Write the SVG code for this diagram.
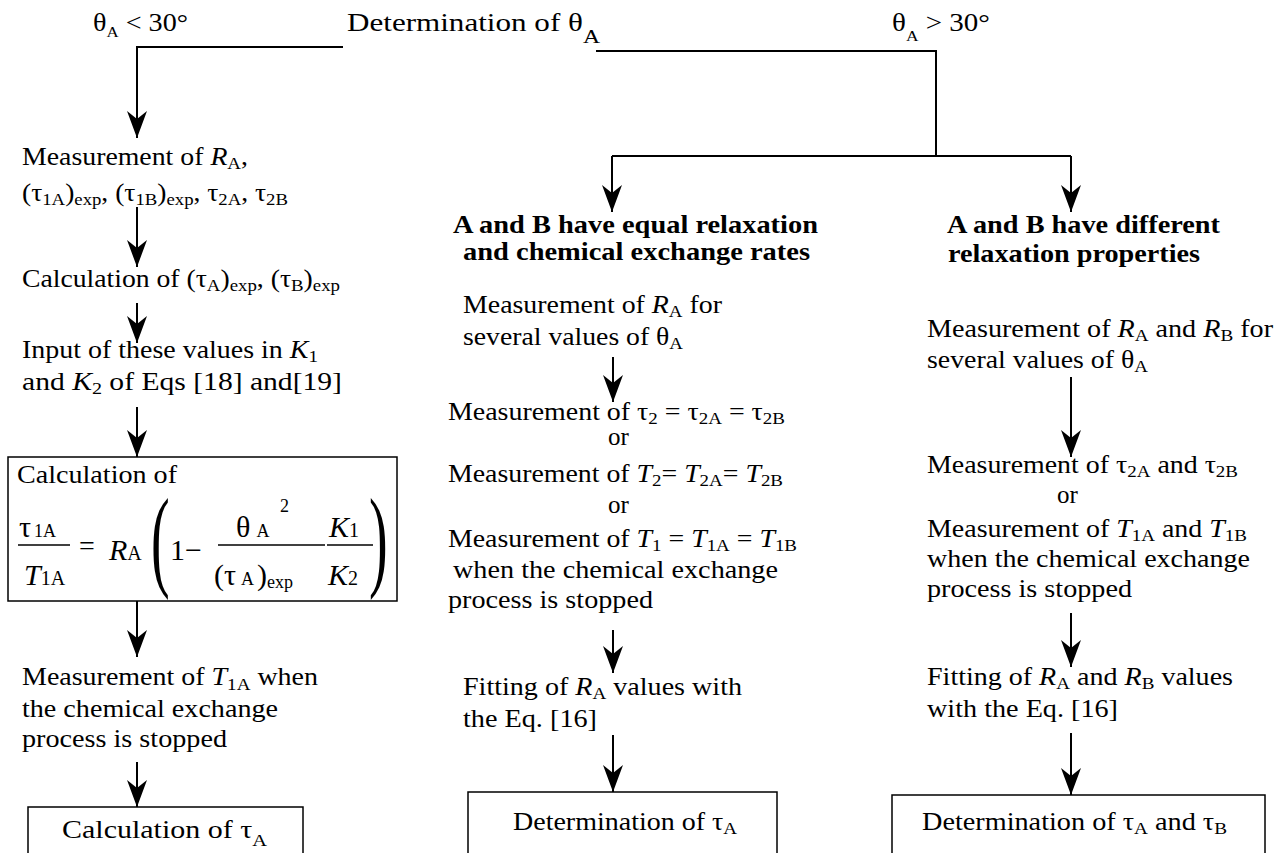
<svg xmlns="http://www.w3.org/2000/svg" width="1276" height="853" viewBox="0 0 1276 853">
<style>
.t{font-size:25px;fill:#000}
.e{font-size:30px;fill:#000}
.b{font-weight:bold}
.i{font-style:italic}
.s{font-size:17px}
.box{fill:#fff;stroke:#000;stroke-width:1.5}
.ln{fill:none;stroke:#000;stroke-width:2}
.fr{stroke:#000;stroke-width:1.5}
</style>
<defs>
<marker id="ah" markerUnits="userSpaceOnUse" viewBox="-27 -11 28 22" refX="0" refY="0" markerWidth="28" markerHeight="22" orient="auto">
<path d="M0,0 L-27,-10 L-19,0 L-27,10 Z" fill="#000"/>
</marker>
</defs>
<rect width="1276" height="853" fill="#fff"/>

<g id="connectors">
<path class="ln" d="M343,47 H137 V138" marker-end="url(#ah)"/>
<path class="ln" d="M596,51 H936 V156"/>
<path class="ln" d="M612,156 H1071"/>
<path class="ln" d="M612,156 V212" marker-end="url(#ah)"/>
<path class="ln" d="M1071,156 V212" marker-end="url(#ah)"/>
<path class="ln" d="M137,207 V267" marker-end="url(#ah)"/>
<path class="ln" d="M137,303 V343" marker-end="url(#ah)"/>
<path class="ln" d="M137,407 V457" marker-end="url(#ah)"/>
<path class="ln" d="M137,601 V657" marker-end="url(#ah)"/>
<path class="ln" d="M137,762 V807" marker-end="url(#ah)"/>
<path class="ln" d="M613,357 V402" marker-end="url(#ah)"/>
<path class="ln" d="M613,630 V673" marker-end="url(#ah)"/>
<path class="ln" d="M613,735 V792" marker-end="url(#ah)"/>
<path class="ln" d="M1071,377 V457" marker-end="url(#ah)"/>
<path class="ln" d="M1071,613 V667" marker-end="url(#ah)"/>
<path class="ln" d="M1071,733 V795" marker-end="url(#ah)"/>
</g>

<g id="top">
<text font-family="Liberation Serif" class="t" x="347" y="31" textLength="253" lengthAdjust="spacingAndGlyphs">Determination of θ<tspan font-size="19" dy="12">A</tspan></text>
</g>
<g id="label-lt">
<text font-family="Liberation Serif" class="t" x="93" y="31" textLength="95" lengthAdjust="spacingAndGlyphs">θ<tspan font-size="15" dy="6">A</tspan><tspan dy="-6"> &lt; 30°</tspan></text>
</g>
<g id="label-gt">
<text font-family="Liberation Serif" class="t" x="892" y="31" textLength="98" lengthAdjust="spacingAndGlyphs">θ<tspan font-size="15" dy="10">A</tspan><tspan dy="-10"> &gt; 30°</tspan></text>
</g>

<g id="left1">
<text font-family="Liberation Serif" class="t" x="22" y="165" textLength="226" lengthAdjust="spacingAndGlyphs">Measurement of <tspan class="i">R</tspan><tspan class="s" dy="4">A</tspan><tspan dy="-4">,</tspan></text>
<text font-family="Liberation Serif" class="t" x="22" y="201" textLength="266" lengthAdjust="spacingAndGlyphs">(τ<tspan class="s" dy="4">1A</tspan><tspan dy="-4">)</tspan><tspan class="s" dy="4">exp</tspan><tspan dy="-4">, (τ</tspan><tspan class="s" dy="4">1B</tspan><tspan dy="-4">)</tspan><tspan class="s" dy="4">exp</tspan><tspan dy="-4">, τ</tspan><tspan class="s" dy="4">2A</tspan><tspan dy="-4">, τ</tspan><tspan class="s" dy="4">2B</tspan></text>
</g>
<g id="left2">
<text font-family="Liberation Serif" class="t" x="22" y="287" textLength="318" lengthAdjust="spacingAndGlyphs">Calculation of (τ<tspan class="s" dy="4">A</tspan><tspan dy="-4">)</tspan><tspan class="s" dy="4">exp</tspan><tspan dy="-4">, (τ</tspan><tspan class="s" dy="4">B</tspan><tspan dy="-4">)</tspan><tspan class="s" dy="4">exp</tspan></text>
</g>
<g id="left3">
<text font-family="Liberation Serif" class="t" x="22" y="358" textLength="296" lengthAdjust="spacingAndGlyphs">Input of these values in <tspan class="i">K</tspan><tspan class="s" dy="4">1</tspan></text>
<text font-family="Liberation Serif" class="t" x="22" y="390" textLength="320" lengthAdjust="spacingAndGlyphs">and <tspan class="i">K</tspan><tspan class="s" dy="4">2</tspan><tspan dy="-4"> of Eqs   [18] and[19]</tspan></text>
</g>
<g id="left4">
<rect class="box" x="8" y="457" width="389" height="144"/>
<text font-family="Liberation Serif" class="t" x="17" y="483" textLength="160" lengthAdjust="spacingAndGlyphs">Calculation of</text>
<text font-family="Liberation Serif" class="e" x="19" y="537">τ<tspan font-size="18" dx="3">1A</tspan></text>
<line class="fr" x1="18" y1="545" x2="70" y2="545"/>
<text font-family="Liberation Serif" class="e i" x="24" y="585">T<tspan font-size="20" font-style="normal">1A</tspan></text>
<text font-family="Liberation Serif" class="e" x="79" y="555" style="font-size:28px">=</text>
<text font-family="Liberation Serif" class="e i" x="109" y="560">R<tspan font-size="20" font-style="normal">A</tspan></text>
<text font-family="Liberation Serif" class="e" transform="translate(151,576) scale(0.5,1)" style="font-size:112px">(</text>
<text font-family="Liberation Serif" class="e" x="170" y="560">1−</text>
<text font-family="Liberation Serif" class="e" x="236" y="537">θ<tspan font-size="18" dx="6">A</tspan></text>
<text font-family="Liberation Serif" class="e" x="280" y="512" style="font-size:18px">2</text>
<line class="fr" x1="218" y1="545" x2="325" y2="545"/>
<text font-family="Liberation Serif" class="e" x="214" y="585">(τ<tspan font-size="18" dx="5">A</tspan><tspan dx="3">)</tspan><tspan font-size="18" dy="3">exp</tspan></text>
<text font-family="Liberation Serif" class="e i" x="329" y="537">K<tspan font-size="20" font-style="normal">1</tspan></text>
<line class="fr" x1="327" y1="545" x2="373" y2="545"/>
<text font-family="Liberation Serif" class="e i" x="328" y="585">K<tspan font-size="20" font-style="normal">2</tspan></text>
<text font-family="Liberation Serif" class="e" transform="translate(369,576) scale(0.5,1)" style="font-size:112px">)</text>
</g>
<g id="left5">
<text font-family="Liberation Serif" class="t" x="22" y="685" textLength="296" lengthAdjust="spacingAndGlyphs">Measurement of <tspan class="i">T</tspan><tspan class="s" dy="5">1A</tspan><tspan dy="-5"> when</tspan></text>
<text font-family="Liberation Serif" class="t" x="22" y="717" textLength="256" lengthAdjust="spacingAndGlyphs">the chemical exchange</text>
<text font-family="Liberation Serif" class="t" x="22" y="747" textLength="205" lengthAdjust="spacingAndGlyphs">process is stopped</text>
</g>
<g id="left6">
<rect class="box" x="28" y="807" width="275" height="70"/>
<text font-family="Liberation Serif" class="t" x="62" y="838" textLength="205" lengthAdjust="spacingAndGlyphs">Calculation of  τ<tspan class="s" dy="8">A</tspan></text>
</g>

<g id="mid-head">
<text font-family="Liberation Serif" class="t b" x="453" y="233" textLength="365" lengthAdjust="spacingAndGlyphs">A and B have equal relaxation</text>
<text font-family="Liberation Serif" class="t b" x="463" y="260" textLength="347" lengthAdjust="spacingAndGlyphs">and chemical exchange rates</text>
</g>
<g id="mid1">
<text font-family="Liberation Serif" class="t" x="463" y="313" textLength="259" lengthAdjust="spacingAndGlyphs">Measurement of <tspan class="i">R</tspan><tspan class="s" dy="4">A</tspan><tspan dy="-4">  for</tspan></text>
<text font-family="Liberation Serif" class="t" x="463" y="345" textLength="220" lengthAdjust="spacingAndGlyphs">several values of θ<tspan class="s" dy="4">A</tspan></text>
</g>
<g id="mid2">
<text font-family="Liberation Serif" class="t" x="448" y="420" textLength="337" lengthAdjust="spacingAndGlyphs">Measurement of τ<tspan class="s" dy="4">2</tspan><tspan dy="-4"> = τ</tspan><tspan class="s" dy="4">2A</tspan><tspan dy="-4"> = τ</tspan><tspan class="s" dy="4">2B</tspan></text>
<text font-family="Liberation Serif" class="t" x="608" y="445">or</text>
<text font-family="Liberation Serif" class="t" x="448" y="482" textLength="335" lengthAdjust="spacingAndGlyphs">Measurement of <tspan class="i">T</tspan><tspan class="s" dy="4">2</tspan><tspan dy="-4">= </tspan><tspan class="i">T</tspan><tspan class="s" dy="4">2A</tspan><tspan dy="-4">= </tspan><tspan class="i">T</tspan><tspan class="s" dy="4">2B</tspan></text>
<text font-family="Liberation Serif" class="t" x="608" y="513">or</text>
<text font-family="Liberation Serif" class="t" x="448" y="547" textLength="349" lengthAdjust="spacingAndGlyphs">Measurement of <tspan class="i">T</tspan><tspan class="s" dy="4">1</tspan><tspan dy="-4"> = </tspan><tspan class="i">T</tspan><tspan class="s" dy="4">1A</tspan><tspan dy="-4"> = </tspan><tspan class="i">T</tspan><tspan class="s" dy="4">1B</tspan></text>
<text font-family="Liberation Serif" class="t" x="453" y="578" textLength="325" lengthAdjust="spacingAndGlyphs">when the chemical exchange</text>
<text font-family="Liberation Serif" class="t" x="448" y="608" textLength="205" lengthAdjust="spacingAndGlyphs">process is stopped</text>
</g>
<g id="mid3">
<text font-family="Liberation Serif" class="t" x="463" y="695" textLength="279" lengthAdjust="spacingAndGlyphs">Fitting of <tspan class="i">R</tspan><tspan class="s" dy="4">A</tspan><tspan dy="-4"> values with</tspan></text>
<text font-family="Liberation Serif" class="t" x="463" y="727" textLength="134" lengthAdjust="spacingAndGlyphs">the Eq. [16]</text>
</g>
<g id="mid4">
<rect class="box" x="468" y="792" width="309" height="85"/>
<text font-family="Liberation Serif" class="t" x="513" y="830" textLength="224" lengthAdjust="spacingAndGlyphs">Determination of τ<tspan class="s" dy="4">A</tspan></text>
</g>

<g id="right-head">
<text font-family="Liberation Serif" class="t b" x="947" y="233" textLength="273" lengthAdjust="spacingAndGlyphs">A and B have different</text>
<text font-family="Liberation Serif" class="t b" x="948" y="262" textLength="252" lengthAdjust="spacingAndGlyphs">relaxation properties</text>
</g>
<g id="right1">
<text font-family="Liberation Serif" class="t" x="927" y="337" textLength="346" lengthAdjust="spacingAndGlyphs">Measurement of <tspan class="i">R</tspan><tspan class="s" dy="4">A</tspan><tspan dy="-4"> and </tspan><tspan class="i">R</tspan><tspan class="s" dy="4">B</tspan><tspan dy="-4"> for</tspan></text>
<text font-family="Liberation Serif" class="t" x="927" y="368" textLength="221" lengthAdjust="spacingAndGlyphs">several values of θ<tspan class="s" dy="4">A</tspan></text>
</g>
<g id="right2">
<text font-family="Liberation Serif" class="t" x="927" y="473" textLength="311" lengthAdjust="spacingAndGlyphs">Measurement of τ<tspan class="s" dy="4">2A</tspan><tspan dy="-4"> and τ</tspan><tspan class="s" dy="4">2B</tspan></text>
<text font-family="Liberation Serif" class="t" x="1057" y="503">or</text>
<text font-family="Liberation Serif" class="t" x="927" y="537" textLength="320" lengthAdjust="spacingAndGlyphs">Measurement of <tspan class="i">T</tspan><tspan class="s" dy="4">1A</tspan><tspan dy="-4"> and </tspan><tspan class="i">T</tspan><tspan class="s" dy="4">1B</tspan></text>
<text font-family="Liberation Serif" class="t" x="927" y="567" textLength="323" lengthAdjust="spacingAndGlyphs">when the chemical exchange</text>
<text font-family="Liberation Serif" class="t" x="927" y="597" textLength="205" lengthAdjust="spacingAndGlyphs">process is stopped</text>
</g>
<g id="right3">
<text font-family="Liberation Serif" class="t" x="927" y="685" textLength="306" lengthAdjust="spacingAndGlyphs">Fitting of <tspan class="i">R</tspan><tspan class="s" dy="4">A</tspan><tspan dy="-4"> and </tspan><tspan class="i">R</tspan><tspan class="s" dy="4">B</tspan><tspan dy="-4"> values</tspan></text>
<text font-family="Liberation Serif" class="t" x="927" y="717" textLength="191" lengthAdjust="spacingAndGlyphs">with the Eq. [16]</text>
</g>
<g id="right4">
<rect class="box" x="892" y="795" width="373" height="82"/>
<text font-family="Liberation Serif" class="t" x="922" y="830" textLength="305" lengthAdjust="spacingAndGlyphs">Determination of τ<tspan class="s" dy="4">A</tspan><tspan dy="-4"> and τ</tspan><tspan class="s" dy="4">B</tspan></text>
</g>
</svg>
